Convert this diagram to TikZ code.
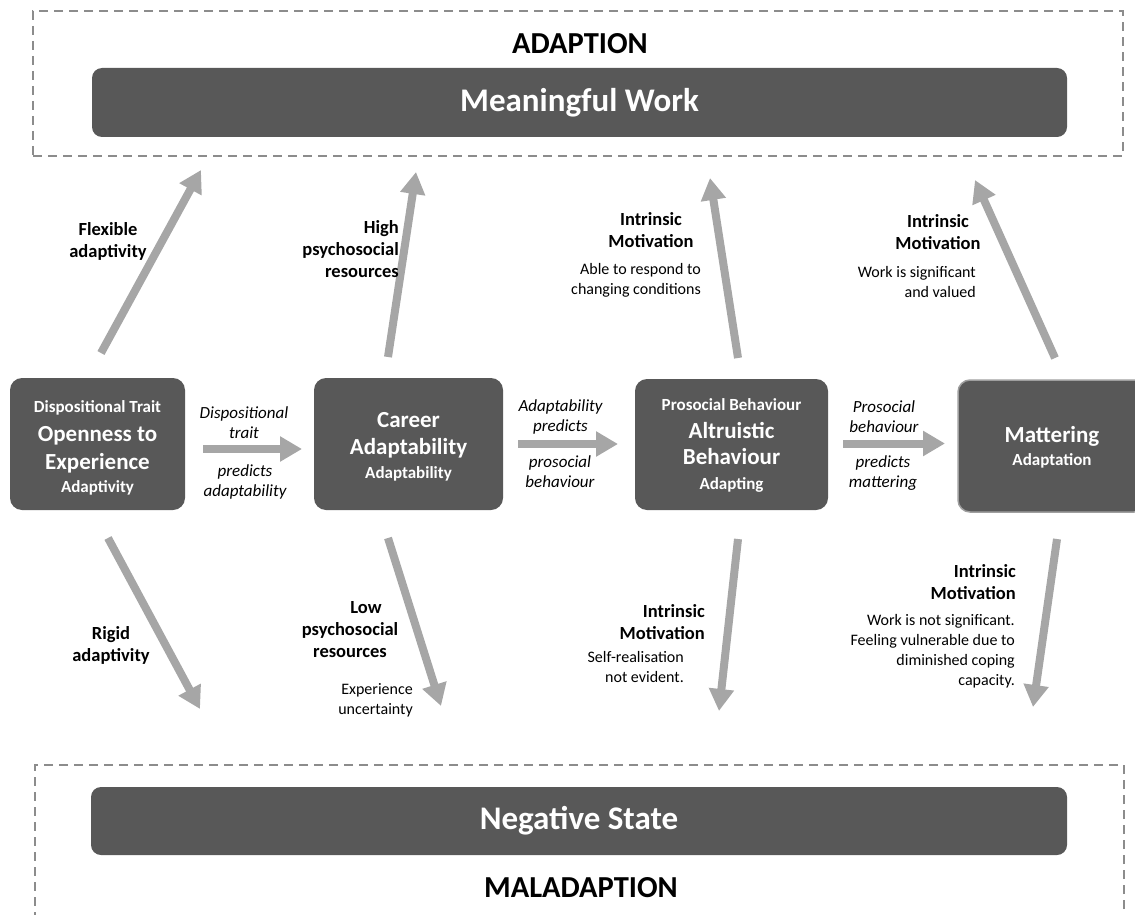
\documentclass[tikz,border=0pt]{standalone}
\usepackage{fontspec}
\setmainfont{Carlito}
\usetikzlibrary{arrows.meta}

\definecolor{boxgray}{HTML}{585858}
\definecolor{arrowgray}{HTML}{A6A6A6}
\definecolor{framegray}{HTML}{8C8C8C}

\tikzset{
  dashframe/.style={draw=framegray, line width=2pt, dash pattern=on 9pt off 6pt,
    inner sep=0pt, outer sep=0pt},
  darkbar/.style={fill=boxgray, rounded corners=10pt, inner sep=0pt, outer sep=0pt,
    text=white, font=\bfseries\fontsize{33}{38}\selectfont},
  stagebox/.style={fill=boxgray, rounded corners=12pt, inner sep=0pt, outer sep=0pt},
  stagetext/.style={text=white, align=center, inner sep=0pt,
    font=\bfseries\fontsize{23}{27}\selectfont},
  flowarrow/.style={draw=arrowgray, line width=8pt, -{Triangle[width=24pt,length=22pt]}},
  headtext/.style={font=\bfseries\fontsize{30.5}{34}\selectfont, inner sep=0pt},
  cuetext/.style={font=\itshape\fontsize{17}{20}\selectfont, align=center, inner sep=0pt},
  boldlabel/.style={font=\bfseries\fontsize{18.5}{22}\selectfont, inner sep=0pt},
  notelabel/.style={font=\fontsize{16}{20}\selectfont, inner sep=0pt},
}
\newcommand{\smallline}[1]{{\fontsize{17}{27}\selectfont #1}}

\begin{document}
\begin{tikzpicture}[x=1pt,y=-1pt]
  \clip (0,0) rectangle (1135,915);
  \useasboundingbox (0,0) rectangle (1135,915);

  % outcome frames and bars
  \node[dashframe, minimum width=1090pt, minimum height=145pt, anchor=north west] (topframe) at (33,11) {};
  \node[headtext] (adaption) at (580,44) {ADAPTION};
  \node[darkbar, minimum width=975pt, minimum height=69pt] (work) at (579.5,102.5) {Meaningful Work};

  \node[dashframe, minimum width=1089pt, minimum height=180pt, anchor=north west] (botframe) at (35,765) {};
  \node[darkbar, minimum width=976pt, minimum height=68pt] (negative) at (579,821) {Negative State};
  \node[headtext] (maladaption) at (581,888) {MALADAPTION};

  % the four stages
  \node[stagebox, minimum width=175pt, minimum height=132pt] (trait) at (97.5,444) {};
  \node[stagebox, minimum width=189pt, minimum height=132pt] (career) at (408.5,444) {};
  \node[stagebox, minimum width=193pt, minimum height=131pt] (altru) at (731.5,444.5) {};
  \node[stagebox, minimum width=188pt, minimum height=132pt, draw=gray!75, line width=1.5pt] (matter) at (1052,446) {};

  \node[stagetext] (traittext) at (97.5,448)
    {\smallline{Dispositional Trait}\\[2pt] Openness to\\[1pt] Experience\\[-4pt] \smallline{Adaptivity}};
  \node[stagetext] (careertext) at (408.5,447)
    {Career\\ Adaptability\\[-3pt] \smallline{Adaptability}};
  \node[stagetext] (altrutext) at (731.5,445)
    {\smallline{Prosocial Behaviour}\\[1pt] Altruistic\\[-1pt] Behaviour\\[-2pt] \smallline{Adapting}};
  \node[stagetext] (mattertext) at (1052,447)
    {Mattering\\[-4pt] \smallline{Adaptation}};

  % horizontal links between stages
  \coordinate (h1s) at (203,449);   \coordinate (h1e) at (302,449);
  \coordinate (h2s) at (518,444);   \coordinate (h2e) at (618,444);
  \coordinate (h3s) at (843,443.5); \coordinate (h3e) at (945,443.5);
  \draw[flowarrow] (h1s) -- (h1e);
  \draw[flowarrow] (h2s) -- (h2e);
  \draw[flowarrow] (h3s) -- (h3e);

  \node[cuetext] (cue1a) at (244,423) {Dispositional\\trait};
  \node[cuetext] (cue1b) at (245,482) {predicts\\adaptability};
  \node[cuetext] (cue2a) at (560.5,417) {Adaptability\\predicts};
  \node[cuetext] (cue2b) at (560,472) {prosocial\\behaviour};
  \node[cuetext] (cue3a) at (884,417) {Prosocial\\behaviour};
  \node[cuetext] (cue3b) at (883,473) {predicts\\mattering};

  % paths up to meaningful work
  \coordinate (u1s) at (101,353);  \coordinate (u1e) at (201,170);
  \coordinate (u2s) at (388,357);  \coordinate (u2e) at (416,172);
  \coordinate (u3s) at (738,358);  \coordinate (u3e) at (710,178);
  \coordinate (u4s) at (1055,358); \coordinate (u4e) at (975,180);
  \draw[flowarrow] (u1s) -- (u1e);
  \draw[flowarrow] (u2s) -- (u2e);
  \draw[flowarrow] (u3s) -- (u3e);
  \draw[flowarrow] (u4s) -- (u4e);

  % paths down to the negative state
  \coordinate (d1s) at (108,538);  \coordinate (d1e) at (200,709);
  \coordinate (d2s) at (388,538);  \coordinate (d2e) at (441,706);
  \coordinate (d3s) at (738,539);  \coordinate (d3e) at (719,711);
  \coordinate (d4s) at (1057,539); \coordinate (d4e) at (1033,707);
  \draw[flowarrow] (d1s) -- (d1e);
  \draw[flowarrow] (d2s) -- (d2e);
  \draw[flowarrow] (d3s) -- (d3e);
  \draw[flowarrow] (d4s) -- (d4e);

  % labels on the upward paths
  \node[boldlabel, align=center] (flex) at (108,241) {Flexible\\adaptivity};
  \node[boldlabel, align=right, anchor=east] (high) at (399,249) {High\\psychosocial\\resources};
  \node[boldlabel, align=center] (im1) at (651,230) {Intrinsic\\Motivation};
  \node[notelabel, align=right, anchor=east] (im1n) at (701,280) {Able to respond to\\changing conditions};
  \node[boldlabel, align=center] (im2) at (938,232) {Intrinsic\\Motivation};
  \node[notelabel, align=right, anchor=east] (im2n) at (976,282) {Work is significant\\and valued};

  % labels on the downward paths
  \node[boldlabel, align=center] (rigid) at (111,645) {Rigid\\adaptivity};
  \node[boldlabel, align=center] (low) at (350,630) {\hspace*{32pt}Low\\psychosocial\\resources};
  \node[notelabel, align=right, anchor=east] (lown) at (413,700) {Experience\\uncertainty};
  \node[boldlabel, align=right, anchor=east] (im3) at (705,622) {Intrinsic\\Motivation};
  \node[notelabel, align=right, anchor=east] (im3n) at (684,667) {Self-realisation\\not evident.};
  \node[boldlabel, align=right, anchor=east] (im4) at (1016,582) {Intrinsic\\Motivation};
  \node[notelabel, align=right, anchor=east] (im4n) at (1015,651)
    {Work is not significant.\\Feeling vulnerable due to\\diminished coping\\capacity.};
\end{tikzpicture}
\end{document}
